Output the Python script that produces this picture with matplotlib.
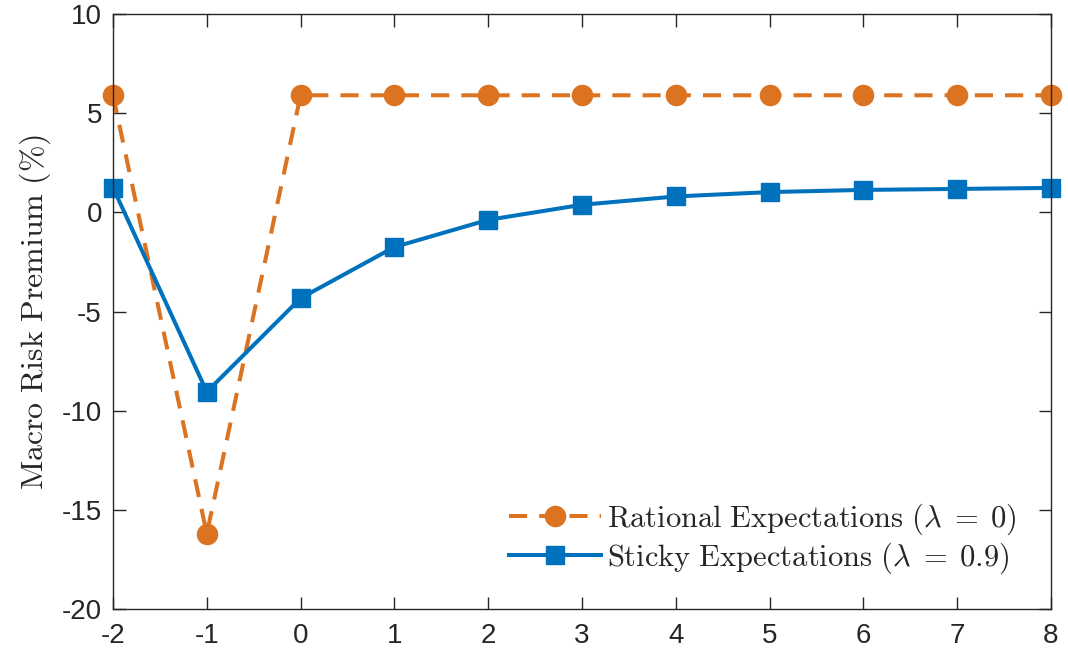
import numpy as np
from matplotlib import pyplot as plt

plt.rcParams['mathtext.fontset'] = 'cm'
plt.rcParams['font.family'] = ['Liberation Sans', 'DejaVu Sans']
plt.rcParams['axes.unicode_minus'] = False

# horizon (quarters relative to shock)
periods = [-2, -1, 0, 1, 2, 3, 4, 5, 6, 7, 8]
rational = [5.9, -16.2, 5.9, 5.9, 5.9, 5.9, 5.9, 5.9, 5.9, 5.9, 5.9]
sticky = [1.25, -9.05, -4.33, -1.75, -0.38, 0.38, 0.8, 1.02, 1.13, 1.18, 1.23]

xticks = [-2, -1, 0, 1, 2, 3, 4, 5, 6, 7, 8]
yticks = [-20, -15, -10, -5, 0, 5, 10]

orange = '#DC7320'
blue = '#0072BD'
dark = '#262626'

fig = plt.figure(figsize=(10.68, 6.62), dpi=100)
ax = fig.add_axes([0.1058, 0.080, 0.8782, 0.8989])

ax.plot(periods, rational, color=orange, lw=2.9, ls=(0, (4.5, 3)),
        marker='o', ms=14.5, clip_on=False,
        label=r'$\mathrm{Rational\ Expectations\ }(\lambda\;=\;0)$')
ax.plot(periods, sticky, color=blue, lw=2.9, marker='s', ms=13.5, clip_on=False,
        label=r'$\mathrm{Sticky\ Expectations\ }(\lambda\;=\;0.9)$')

ax.set_xlim(-2, 8)
ax.set_ylim(-20, 10)
ax.set_xticks(xticks)
ax.set_yticks(yticks)
ax.tick_params(direction='in', length=9, width=1, top=True, right=True,
               labelsize=20, colors=dark)
ax.tick_params(axis='x', pad=10)
ax.tick_params(axis='y', pad=8)
for s in ax.spines.values():
    s.set_color(dark)
    s.set_linewidth(1)

ax.set_ylabel(r'$\mathrm{Macro\ Risk\ Premium\ (\%)}$', fontsize=23, color=dark, labelpad=6)

leg = ax.legend(loc='lower right', frameon=False, fontsize=22, handlelength=3.0,
                handletextpad=0.2, labelspacing=0.12, borderaxespad=0,
                bbox_to_anchor=(0.977, 0.035))
for t in leg.get_texts():
    t.set_color(dark)

fig.savefig('out.png', dpi=100)
